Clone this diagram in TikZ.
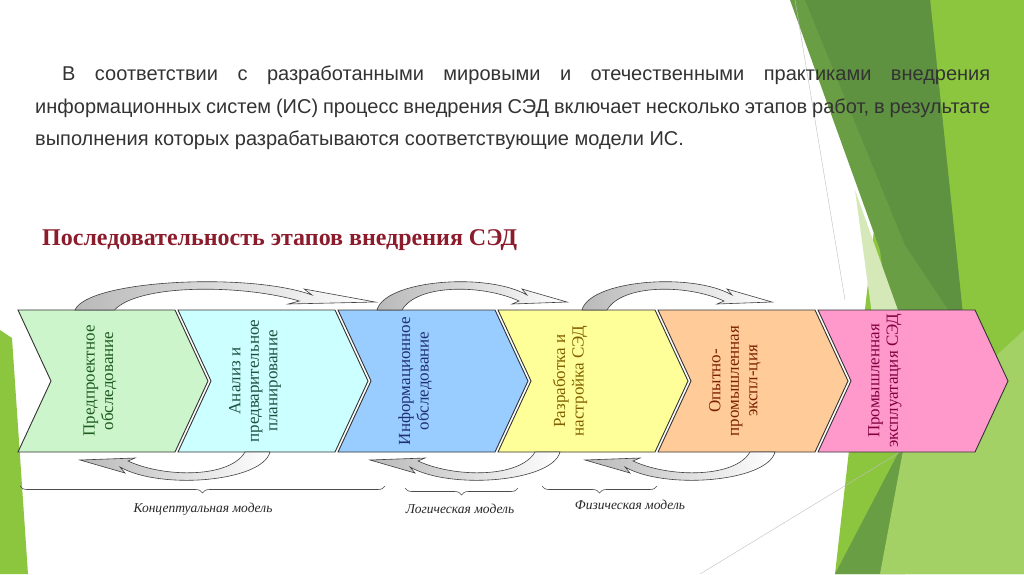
\documentclass[tikz,border=0pt]{standalone}
\usepackage{fontspec}
\setmainfont{Liberation Serif}
\newfontfamily\arialf{Liberation Sans}
\usetikzlibrary{decorations.pathreplacing}
\definecolor{gA}{HTML}{8CC63F}
\definecolor{gB}{HTML}{6A9E45}
\definecolor{gC}{HTML}{D4E8B8}
\definecolor{gD}{HTML}{5E9140}
\definecolor{titlered}{HTML}{8C1C2C}
\definecolor{c1}{HTML}{CCF5CC}\definecolor{t1}{HTML}{1E5A1E}
\definecolor{c2}{HTML}{CCFFFF}\definecolor{t2}{HTML}{1F4F3F}
\definecolor{c3}{HTML}{99CCFF}\definecolor{t3}{HTML}{1F3070}
\definecolor{c4}{HTML}{FFFF99}\definecolor{t4}{HTML}{806000}
\definecolor{c5}{HTML}{FFCC99}\definecolor{t5}{HTML}{7A2000}
\definecolor{c6}{HTML}{FF99CC}\definecolor{t6}{HTML}{800040}
\newcommand\mychev[2]{%
  \draw[chevline,fill=#2] (#1,310) -- ++(157,0) -- ++(33,71) -- ++(-33,71) -- ++(-157,0) -- ++(33,-71) -- cycle;}
\newcommand\myarc{%
  \path[arcline,left color=gray!55,right color=white] (0,0) .. controls (8,-30) and (110,-38) .. (150,-15) -- (145,-21) -- (190,-8) -- (135,-6) -- (142,-9) .. controls (105,-26) and (40,-26) .. (25,0) -- cycle;}
\begin{document}
\begin{tikzpicture}[x=1pt,y=-1pt,
  chevline/.style={draw=black!80,line width=0.9pt},
  arcline/.style={draw=black!75,line width=0.6pt},
  stagetext/.style={rotate=90,align=center,font=\fontsize{17}{18.5}\selectfont},
  bracestyle/.style={decorate,decoration={brace,mirror,amplitude=7pt},draw=black!70,line width=0.6pt},
  modeltext/.style={font=\itshape\fontsize{13.5}{15}\selectfont,text=black!85}]
\useasboundingbox (0,0) rectangle (1024,574);
\fill[white] (0,0) rectangle (1024,574);
% background
\fill[gA] (900,0) -- (1024,0) -- (1024,574) -- (835,574) -- cycle;
\fill[gB] (790,0) -- (930,0) -- (965,335) -- (905,574) -- (835,574) -- (905,440) -- (880,250) -- cycle;
\fill[gD] (805,0) -- (930,0) -- (965,335) -- (905,245) -- cycle;
\fill[gC] (855,190) -- (905,330) -- (910,440) -- (885,410) -- cycle;
\fill[gA!80!white] (905,440) -- (1024,330) -- (1024,574) -- (880,574) -- cycle;
\fill[gA] (0,330) -- (12,338) -- (28,574) -- (0,574) -- cycle;
\draw[gray!50,line width=0.4pt] (795,0) -- (845,300);
\draw[gray!50,line width=0.4pt] (700,574) -- (920,440);
% paragraph
\node[anchor=north west,inner sep=0pt,text width=955pt,align=justify,text=black!80,
  font=\arialf\fontsize{20}{32.5}\selectfont] (para) at (35,66)
  {\hspace*{27pt}В соответствии с разработанными мировыми и отечественными практиками внедрения информационных систем (ИС) процесс внедрения СЭД включает несколько этапов работ, в результате выполнения которых разрабатываются соответствующие модели ИС.};
\node[anchor=west,inner sep=0pt,text=titlered,font=\bfseries\fontsize{24}{26}\selectfont] (title) at (42,240) {Последовательность этапов внедрения СЭД};
% chevrons
\mychev{18}{c1}
\mychev{178}{c2}
\mychev{338}{c3}
\mychev{498}{c4}
\mychev{658}{c5}
\mychev{818}{c6}
\node[stagetext,text=t1] (s1) at (100,381) {Предпроектное\\обследование};
\node[stagetext,text=t2] (s2) at (255,381) {Анализ и\\предварительное\\планирование};
\node[stagetext,text=t3] (s3) at (415,381) {Информационное\\обследование};
\node[stagetext,text=t4] (s4) at (570,381) {Разработка и\\настройка СЭД};
\node[stagetext,text=t5] (s5) at (735,381) {Опытно-\\промышленная\\экспл-ция};
\node[stagetext,text=t6] (s6) at (885,381) {Промышленная\\эксплуатация СЭД};
% top arcs
\begin{scope}[shift={(75,310)},xscale=1.58]\myarc\end{scope}
\begin{scope}[shift={(377,310)}]\myarc\end{scope}
\begin{scope}[shift={(582,310)}]\myarc\end{scope}
% bottom arcs
\begin{scope}[shift={(270,452)},xscale=-1,yscale=-1]\myarc\end{scope}
\begin{scope}[shift={(560,452)},xscale=-1,yscale=-1]\myarc\end{scope}
\begin{scope}[shift={(775,452)},xscale=-1,yscale=-1]\myarc\end{scope}
% braces
\coordinate (b1a) at (20,486); \coordinate (b1b) at (385,486);
\coordinate (b2a) at (405,488); \coordinate (b2b) at (518,488);
\coordinate (b3a) at (542,486); \coordinate (b3b) at (657,486);
\draw[bracestyle] (b1a) -- (b1b);
\draw[bracestyle] (b2a) -- (b2b);
\draw[bracestyle] (b3a) -- (b3b);
\node[modeltext] (m1) at (203,509) {Концептуальная модель};
\node[modeltext] (m2) at (460,509) {Логическая модель};
\node[modeltext] (m3) at (630,505) {Физическая модель};
\end{tikzpicture}
\end{document}
